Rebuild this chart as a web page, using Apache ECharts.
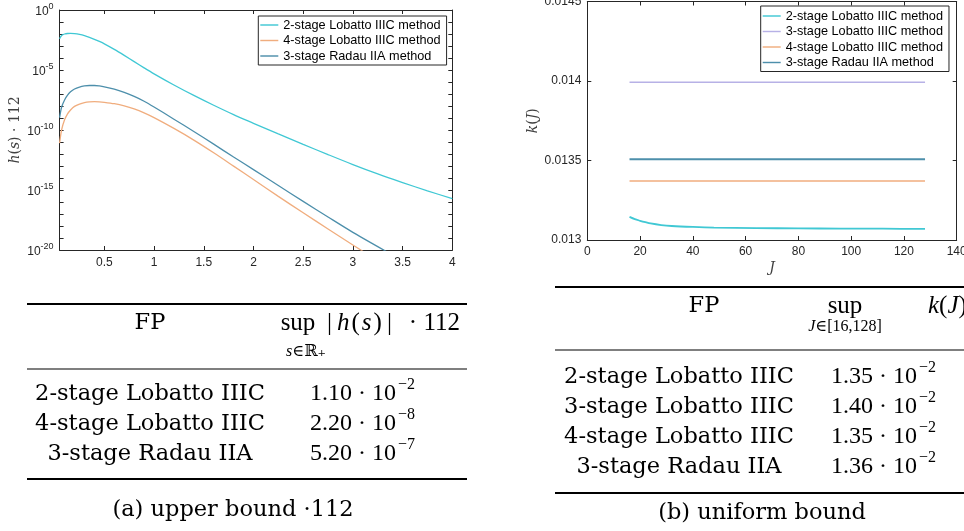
<!DOCTYPE html>
<html>
<head>
<meta charset="utf-8">
<script src="https://cdn.jsdelivr.net/npm/echarts@6/dist/echarts.min.js"></script>
<style>
  html, body { margin: 0; padding: 0; background: #ffffff; }
  #fig { width: 964px; height: 531px; }
</style>
</head>
<body>
<div id="fig"></div>
<script>
// ---- (a) h(s)*112 on a log scale: s samples and log10 of each curve ----
const sValues = [0.05, 0.07, 0.1, 0.13, 0.16, 0.2, 0.25, 0.3, 0.35, 0.4, 0.45, 0.5, 0.6, 0.7, 0.8, 0.9,
                 1.0, 1.2, 1.4, 1.6, 1.8, 2.0, 2.25, 2.5, 2.75, 3.0, 3.25, 3.5, 3.75, 4.0];
const log10H2Lobatto = [-2.40, -2.12, -2.00, -1.96, -1.955, -1.975, -2.04, -2.14, -2.28, -2.44, -2.62, -2.82,
                        -3.28, -3.78, -4.30, -4.82, -5.32, -6.25, -7.12, -7.94, -8.72, -9.44, -10.33, -11.20,
                        -12.05, -12.88, -13.66, -14.38, -15.07, -15.72];
const log10H4Lobatto = [-11.10, -10.00, -9.15, -8.65, -8.33, -8.03, -7.84, -7.72, -7.66, -7.64, -7.65, -7.69,
                        -7.81, -7.99, -8.24, -8.57, -8.97, -9.87, -10.84, -11.90, -13.01, -14.13, -15.53, -16.90,
                        -18.25, -19.58, -20.90, null, null, null];
const log10H3Radau   = [-8.97, -8.10, -7.50, -7.10, -6.82, -6.58, -6.42, -6.33, -6.29, -6.29, -6.33, -6.40,
                        -6.60, -6.87, -7.20, -7.60, -8.08, -9.10, -10.12, -11.18, -12.25, -13.30, -14.63, -15.95,
                        -17.25, -18.53, -19.72, -20.90, null, null];
const hTickExponents = [0, -5, -10, -15, -20];

// ---- (b) k(J) for J in [16, 128] ----
const jValues   = [16, 18, 20, 22, 24, 28, 32, 40, 48, 64, 80, 96, 112, 128];
const k2Lobatto = [0.013145, 0.013131, 0.013121, 0.013112, 0.013104, 0.013094, 0.013088, 0.013082,
                   0.013078, 0.013075, 0.013073, 0.013072, 0.013071, 0.013070];
const jEnds     = [16, 128];
const k3Lobatto = [0.013992, 0.013992];
const k4Lobatto = [0.013371, 0.013371];
const k3Radau   = [0.013508, 0.013508];
const kTicks    = [0.013, 0.0135, 0.014, 0.0145];

// ---- tables ----
const methodsA = ['2-stage Lobatto IIIC', '4-stage Lobatto IIIC', '3-stage Radau IIA'];
const supA     = [1.10e-2, 2.20e-8, 5.20e-7];
const methodsB = ['2-stage Lobatto IIIC', '3-stage Lobatto IIIC', '4-stage Lobatto IIIC', '3-stage Radau IIA'];
const supB     = [1.35e-2, 1.40e-2, 1.35e-2, 1.36e-2];

const NAME_2L = '2-stage Lobatto IIIC method';
const NAME_3L = '3-stage Lobatto IIIC method';
const NAME_4L = '4-stage Lobatto IIIC method';
const NAME_3R = '3-stage Radau IIA method';

const C_2L = '#40c8d4';
const C_3L = '#b7b1e6';
const C_4L = '#f0ad7e';
const C_3R = '#4d8fab';

const AX = '#262626';
const SANS = 'Liberation Sans, Arial, Helvetica, sans-serif';
const SERIF = 'DejaVu Serif, serif';
const MATH = 'Liberation Serif, DejaVu Serif, serif';

function pairs(xs, ys, toValue) {
  const out = [];
  xs.forEach((x, i) => { if (ys[i] !== null) out.push([x, toValue ? toValue(ys[i]) : ys[i]]); });
  return out;
}
const pow10 = e => Math.pow(10, e);

function boxAxis(gridIndex, position, base) {
  return Object.assign({
    gridIndex: gridIndex,
    position: position,
    axisLine: { show: true, onZero: false, lineStyle: { color: AX, width: 1 } },
    axisTick: { show: true, inside: true, length: 4, lineStyle: { color: AX, width: 1 } },
    axisLabel: { show: false },
    splitLine: { show: false }
  }, base);
}

const labelStyle = { color: AX, fontSize: 12, fontFamily: SANS };
const axisNameStyle = { color: '#404040', fontSize: 14, fontFamily: SERIF,
                        rich: { i: { fontStyle: 'italic', fontSize: 14, fontFamily: SERIF, color: '#404040' } } };

// table helpers
const graphics = [];
function rule(x1, x2, y, w) {
  graphics.push({ type: 'line', silent: true, shape: { x1: x1, y1: y, x2: x2, y2: y },
                  style: { stroke: '#000', lineWidth: w } });
}
function label(x, y, str, font, align, rich) {
  const st = { text: str, x: x, y: y, font: font, fill: '#000',
               align: align, verticalAlign: 'middle', textAlign: align, textVerticalAlign: 'middle' };
  if (rich) st.rich = rich;
  graphics.push({ type: 'text', silent: true, style: st });
}
function sciValue(xRight, y, v) {
  const e = Math.floor(Math.log10(v));
  const m = (v / Math.pow(10, e)).toFixed(2);
  label(xRight, y, m + ' \u00b7 10', '24px ' + MATH, 'right');
  label(xRight + 2, y - 9, '\u2212' + Math.abs(e), '16px ' + MATH, 'left');
}
const absRich = {
  i: { fontStyle: 'italic', fontSize: 25, fontFamily: MATH, padding: [0, 1, 0, 1] },
  d: { fontSize: 25, fontFamily: MATH, padding: [0, 4, 0, 4] },
  r: { fontSize: 25, fontFamily: MATH, padding: [0, 1, 0, 1] }
};
const mathRich = { i: { fontStyle: 'italic', fontSize: 25, fontFamily: MATH } };
const subRich  = { i: { fontStyle: 'italic', fontSize: 16, fontFamily: MATH } };
const textFont = '22.5px ' + SERIF;

// table (a)
rule(27, 467, 304, 2);
rule(27, 467, 369, 1.2);
rule(27, 467, 479, 2);
label(150, 323, 'FP', textFont, 'center');
label(298, 323, 'sup', '25px ' + MATH, 'center');
label(323, 323, '{d||}{i|h}{r|(}{i|s}{r|)}{d||}', '25px ' + MATH, 'left', absRich);
label(460, 323, '\u00b7 112', '25px ' + MATH, 'right');
label(306, 352, '{i|s}\u2208\u211d\u208a', '16px ' + MATH, 'center', subRich);
methodsA.forEach((m, i) => {
  const y = 394 + i * 30;
  label(150, y, m, textFont, 'center');
  sciValue(396, y, supA[i]);
});
label(233, 510, '(a) upper bound \u00b7112', textFont, 'center');

// table (b)
rule(555, 964, 287, 2);
rule(555, 964, 350, 1.2);
rule(555, 964, 493, 2);
label(704, 306, 'FP', textFont, 'center');
label(845, 306, 'sup', '25px ' + MATH, 'center');
label(928, 306, '{i|k}({i|J})', '25px ' + MATH, 'left', mathRich);
label(845, 327, '{i|J}\u2208[16,128]', '16px ' + MATH, 'center', subRich);
methodsB.forEach((m, i) => {
  const y = 377 + i * 30;
  label(679, y, m, textFont, 'center');
  sciValue(917, y, supB[i]);
});
label(762, 513, '(b) uniform bound', textFont, 'center');

// the s label of plot (a) sits at the lower border of the plot image
graphics.push({ type: 'rect', silent: true, z: 100, shape: { x: 225, y: 278, width: 60, height: 22 },
                style: { fill: '#ffffff' } });

const legendBase = {
  orient: 'vertical',
  icon: 'path://M0,0H20V1.6H0Z',
  itemWidth: 18, itemHeight: 14, itemGap: 1.5,
  borderColor: AX, borderWidth: 1, backgroundColor: '#ffffff',
  textStyle: { fontSize: 12.7, fontFamily: SANS, color: '#000', lineHeight: 14 },
  selectedMode: false
};

const lineSeries = (name, color, data, xi, yi, width, smooth) => ({
  name: name, type: 'line', xAxisIndex: xi, yAxisIndex: yi, data: data,
  showSymbol: false, symbol: 'none', smooth: smooth, clip: true,
  lineStyle: { color: color, width: width }, itemStyle: { color: color },
  emphasis: { disabled: true }, animation: false
});

const option = {
  backgroundColor: '#ffffff',
  animation: false,
  grid: [
    { left: 59.6, top: 10, width: 392.7, height: 240, outerBoundsMode: 'none', containLabel: false },
    { left: 587.3, top: 1.5, width: 369.4, height: 238.5, outerBoundsMode: 'none', containLabel: false }
  ],
  xAxis: [
    boxAxis(0, 'bottom', {
      type: 'value', min: 0.05, max: 4, splitNumber: 8,
      axisLabel: Object.assign({ show: true, margin: 7, showMinLabel: false,
                                 formatter: v => String(v) }, labelStyle),
      name: '{i|s}', nameLocation: 'middle', nameGap: 27, nameTextStyle: axisNameStyle
    }),
    boxAxis(0, 'top', { type: 'value', min: 0.05, max: 4, splitNumber: 8 }),
    boxAxis(1, 'bottom', {
      type: 'value', min: 0, max: 140, interval: 20,
      axisLabel: Object.assign({ show: true, margin: 6 }, labelStyle),
      name: '{i|J}', nameLocation: 'middle', nameGap: 21, nameTextStyle: axisNameStyle
    }),
    boxAxis(1, 'top', { type: 'value', min: 0, max: 140, interval: 20 })
  ],
  yAxis: [
    boxAxis(0, 'left', {
      type: 'log', logBase: 10, min: 1e-20, max: 1, interval: 1,
      axisLabel: Object.assign({
        show: true, margin: 6,
        formatter: v => {
          const e = Math.round(Math.log10(v));
          return hTickExponents.indexOf(e) >= 0 ? '{b|10}{s|' + e + '}' : '';
        },
        rich: {
          b: { fontSize: 12, fontFamily: SANS, color: AX, lineHeight: 16, verticalAlign: 'bottom' },
          s: { fontSize: 9, fontFamily: SANS, color: AX, lineHeight: 9, verticalAlign: 'top' }
        }
      }, labelStyle),
      name: '{i|h}({i|s}) \u00b7 112', nameLocation: 'middle', nameGap: 37, nameTextStyle: axisNameStyle
    }),
    boxAxis(0, 'right', { type: 'log', logBase: 10, min: 1e-20, max: 1, interval: 1 }),
    boxAxis(1, 'left', {
      type: 'value', min: 0.013, max: 0.0145, interval: 0.0005,
      axisLabel: Object.assign({
        show: true, margin: 6,
        formatter: v => {
          const r = Number(v.toFixed(5));
          return kTicks.some(t => Math.abs(t - r) < 1e-9) ? String(r) : '';
        }
      }, labelStyle),
      name: '{i|k}({i|J})', nameLocation: 'middle', nameGap: 47, nameTextStyle: axisNameStyle
    }),
    boxAxis(1, 'right', { type: 'value', min: 0.013, max: 0.0145, interval: 0.0005 })
  ],
  legend: [
    Object.assign({ left: 258.3, top: 16, padding: [2, 6, 2, 2],
                    data: [NAME_2L, NAME_4L, NAME_3R] }, legendBase),
    Object.assign({ left: 760.7, top: 6, padding: [3, 6, 2, 2],
                    data: [NAME_2L, NAME_3L, NAME_4L, NAME_3R] }, legendBase)
  ],
  series: [
    lineSeries(NAME_2L, C_2L, pairs(sValues, log10H2Lobatto, pow10), 0, 0, 1.3, 0.3),
    lineSeries(NAME_4L, C_4L, pairs(sValues, log10H4Lobatto, pow10), 0, 0, 1.3, 0.3),
    lineSeries(NAME_3R, C_3R, pairs(sValues, log10H3Radau, pow10), 0, 0, 1.3, 0.3),
    lineSeries(NAME_2L, C_2L, pairs(jValues, k2Lobatto), 2, 2, 1.8, 0.3),
    lineSeries(NAME_3L, C_3L, pairs(jEnds, k3Lobatto), 2, 2, 1.5, false),
    lineSeries(NAME_4L, C_4L, pairs(jEnds, k4Lobatto), 2, 2, 1.5, false),
    lineSeries(NAME_3R, C_3R, pairs(jEnds, k3Radau), 2, 2, 1.8, false)
  ],
  graphic: graphics
};

const chart = echarts.init(document.getElementById('fig'));
chart.setOption(option);
</script>
</body>
</html>
